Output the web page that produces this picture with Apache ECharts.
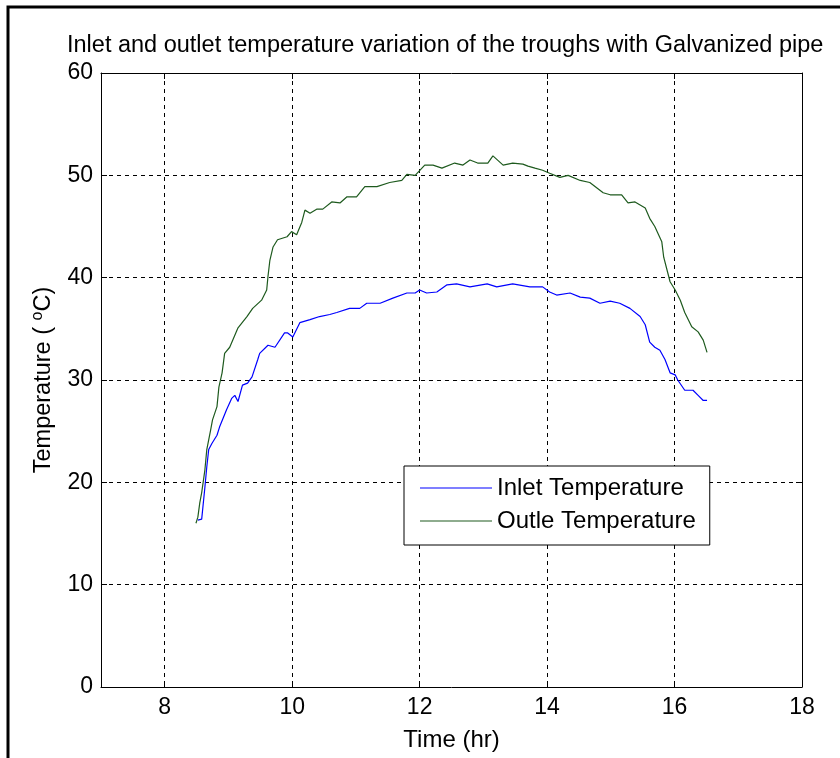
<!DOCTYPE html>
<html>
<head>
<meta charset="utf-8">
<script src="https://cdn.jsdelivr.net/npm/echarts@6/dist/echarts.min.js"></script>
<style>
  html, body { margin: 0; padding: 0; background: #fff; }
  #chart { width: 840px; height: 758px; }
</style>
</head>
<body>
<div id="chart"></div>
<script>
'use strict';
// inlet temperature (blue)
var inletTime = [8.52, 8.58, 8.63, 8.66, 8.69, 8.74, 8.82, 8.86, 8.97, 9.05, 9.10, 9.15, 9.22, 9.30, 9.37, 9.46, 9.49, 9.62, 9.73, 9.88, 9.93, 10.01, 10.12, 10.28, 10.43, 10.59, 10.70, 10.90, 11.06, 11.17, 11.38, 11.58, 11.80, 11.93, 12.00, 12.11, 12.27, 12.43, 12.58, 12.79, 13.06, 13.21, 13.46, 13.73, 13.93, 14.04, 14.15, 14.36, 14.52, 14.67, 14.83, 14.99, 15.14, 15.30, 15.46, 15.54, 15.61, 15.69, 15.77, 15.85, 15.93, 16.01, 16.05, 16.16, 16.29, 16.37, 16.45, 16.51];
var inletTemp = [16.3, 16.4, 19.5, 21.5, 23.2, 23.8, 24.6, 25.4, 27.1, 28.2, 28.5, 27.9, 29.5, 29.7, 30.3, 32.0, 32.6, 33.4, 33.2, 34.6, 34.6, 34.2, 35.6, 35.9, 36.2, 36.4, 36.6, 37.0, 37.0, 37.5, 37.5, 38.0, 38.5, 38.5, 38.8, 38.5, 38.6, 39.3, 39.4, 39.1, 39.4, 39.1, 39.4, 39.1, 39.1, 38.6, 38.3, 38.5, 38.1, 38.0, 37.5, 37.7, 37.5, 37.0, 36.2, 35.4, 33.7, 33.2, 32.9, 32.0, 30.7, 30.5, 30.0, 29.0, 29.0, 28.5, 28.0, 28.0];

// outlet temperature (green)
var outletTime = [8.49, 8.52, 8.55, 8.58, 8.63, 8.66, 8.72, 8.75, 8.82, 8.85, 8.90, 8.94, 9.02, 9.15, 9.29, 9.38, 9.52, 9.60, 9.62, 9.65, 9.70, 9.77, 9.92, 9.99, 10.07, 10.15, 10.20, 10.28, 10.39, 10.48, 10.62, 10.75, 10.86, 11.01, 11.14, 11.33, 11.53, 11.72, 11.80, 11.93, 12.08, 12.21, 12.35, 12.55, 12.68, 12.79, 12.91, 13.07, 13.15, 13.31, 13.46, 13.62, 13.70, 13.81, 13.93, 14.04, 14.20, 14.33, 14.52, 14.67, 14.88, 14.99, 15.17, 15.27, 15.38, 15.54, 15.61, 15.69, 15.80, 15.83, 15.88, 15.93, 16.01, 16.09, 16.16, 16.27, 16.37, 16.45, 16.51];
var outletTemp = [16.0, 16.6, 18.0, 19.0, 21.2, 23.2, 25.1, 26.1, 27.4, 29.3, 30.7, 32.6, 33.2, 35.1, 36.2, 37.0, 37.8, 38.8, 40.1, 41.7, 43.0, 43.7, 44.0, 44.5, 44.2, 45.4, 46.6, 46.3, 46.7, 46.7, 47.4, 47.3, 47.9, 47.9, 48.9, 48.9, 49.3, 49.5, 50.1, 50.0, 51.0, 51.0, 50.7, 51.2, 51.0, 51.5, 51.2, 51.2, 51.9, 51.0, 51.2, 51.1, 50.9, 50.7, 50.5, 50.2, 49.8, 50.0, 49.5, 49.3, 48.3, 48.1, 48.1, 47.3, 47.4, 46.8, 45.8, 45.0, 43.5, 42.0, 40.8, 39.6, 38.8, 37.8, 36.6, 35.2, 34.7, 33.9, 32.7];

var seriesNames = ['Inlet Temperature', 'Outle Temperature'];
var lineColors = ['#0000ff', '#1e5a1e'];

function pairs(xs, ys) {
  return xs.map(function(x, i) { return [x, ys[i]]; });
}

var font = 'Liberation Sans, Arial, sans-serif';
var chart = echarts.init(document.getElementById('chart'), null, {renderer: 'canvas'});

var tickIn = {show: true, inside: true, length: 6, lineStyle: {color: '#000'}};
var dashed = {show: true, lineStyle: {color: '#000', type: [4, 4], width: 1}};

chart.setOption({
  backgroundColor: '#fff',
  animation: false,
  title: {
    text: 'Inlet and outlet temperature variation of the troughs with Galvanized pipe',
    left: 67, top: 34, padding: 0,
    textStyle: {fontFamily: font, fontSize: 23.5, fontWeight: 'normal', color: '#000'}
  },
  graphic: [{
    type: 'rect', silent: true,
    shape: {x: 8, y: 7, width: 900, height: 900},
    style: {fill: 'none', stroke: '#000', lineWidth: 3}
  }],
  grid: {left: 101, right: 38, top: 73, bottom: 71, containLabel: false},
  legend: {
    orient: 'vertical',
    left: 404, top: 466,
    padding: [10, 14, 12, 16],
    icon: 'rect',
    itemWidth: 72, itemHeight: 1.2, itemGap: 9,
    backgroundColor: '#fff',
    borderColor: '#000', borderWidth: 1, borderRadius: 0,
    textStyle: {fontFamily: font, fontSize: 24, color: '#000'},
    data: seriesNames
  },
  xAxis: [{
    type: 'value', min: 7, max: 18, splitNumber: 5,
    name: 'Time (hr)', nameLocation: 'middle', nameGap: 41,
    nameTextStyle: {fontFamily: font, fontSize: 24, color: '#000'},
    axisLine: {show: true, onZero: false, lineStyle: {color: '#000'}},
    axisTick: tickIn,
    axisLabel: {fontFamily: font, fontSize: 23, color: '#000', margin: 9, showMinLabel: false},
    splitLine: dashed
  }, {
    type: 'value', min: 7, max: 18, splitNumber: 5, position: 'top',
    axisLine: {show: true, onZero: false, lineStyle: {color: '#000'}},
    axisTick: tickIn, axisLabel: {show: false}, splitLine: {show: false}
  }],
  yAxis: [{
    type: 'value', min: 0, max: 60, interval: 10,
    name: '{a|Temperature ( }{s|o}{a|C)}', nameLocation: 'middle', nameGap: 43, nameRotate: 90,
    nameTextStyle: {
      fontFamily: font, fontSize: 23.5, color: '#000',
      rich: {
        a: {fontFamily: font, fontSize: 23.5, color: '#000', lineHeight: 28},
        s: {fontFamily: font, fontSize: 16, color: '#000', verticalAlign: 'top', lineHeight: 28, padding: [0, 0, 10, 0]}
      }
    },
    axisLine: {show: true, lineStyle: {color: '#000'}},
    axisTick: tickIn,
    axisLabel: {fontFamily: font, fontSize: 23, color: '#000', margin: 8},
    splitLine: dashed
  }, {
    type: 'value', min: 0, max: 60, interval: 10, position: 'right',
    axisLine: {show: true, lineStyle: {color: '#000'}},
    axisTick: tickIn, axisLabel: {show: false}, splitLine: {show: false}
  }],
  series: [{
    name: seriesNames[0], type: 'line', symbol: 'none',
    lineStyle: {color: lineColors[0], width: 1.2}, itemStyle: {color: lineColors[0]},
    data: pairs(inletTime, inletTemp)
  }, {
    name: seriesNames[1], type: 'line', symbol: 'none',
    lineStyle: {color: lineColors[1], width: 1.2}, itemStyle: {color: lineColors[1]},
    data: pairs(outletTime, outletTemp)
  }]
});
</script>
</body>
</html>
